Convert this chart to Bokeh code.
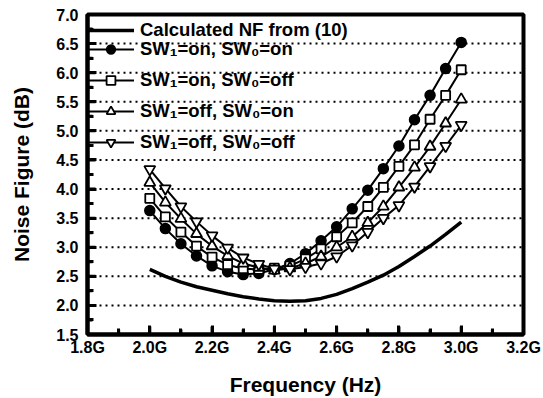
from bokeh.plotting import figure
from bokeh.models import Range1d, FixedTicker, PrintfTickFormatter, Legend, LegendItem
from bokeh.embed import file_html
from bokeh.resources import INLINE

# ---- data (frequency in GHz, noise figure in dB) ----
freq = [2.00, 2.05, 2.10, 2.15, 2.20, 2.25, 2.30, 2.35, 2.40, 2.45, 2.50,
        2.55, 2.60, 2.65, 2.70, 2.75, 2.80, 2.85, 2.90, 2.95, 3.00]

nf_calc = [2.62, 2.50, 2.40, 2.32, 2.26, 2.20, 2.15, 2.11, 2.08, 2.07, 2.08,
           2.12, 2.19, 2.29, 2.40, 2.52, 2.67, 2.84, 3.02, 3.22, 3.43]

nf_on_on = [3.63, 3.32, 3.06, 2.85, 2.68, 2.58, 2.53, 2.55, 2.62, 2.72, 2.89,
            3.11, 3.35, 3.66, 3.98, 4.35, 4.74, 5.19, 5.61, 6.07, 6.52]

nf_on_off = [3.84, 3.52, 3.26, 3.02, 2.83, 2.70, 2.63, 2.62, 2.64, 2.68, 2.80,
             2.97, 3.18, 3.42, 3.70, 4.03, 4.39, 4.76, 5.20, 5.61, 6.05]

nf_off_on = [4.11, 3.77, 3.49, 3.23, 3.02, 2.85, 2.72, 2.65, 2.60, 2.64, 2.72,
             2.84, 3.00, 3.18, 3.42, 3.70, 4.03, 4.37, 4.73, 5.13, 5.54]

nf_off_off = [4.34, 4.01, 3.70, 3.44, 3.20, 2.99, 2.82, 2.71, 2.63, 2.62, 2.66,
              2.72, 2.84, 3.03, 3.26, 3.50, 3.72, 4.04, 4.39, 4.74, 5.10]

x_ticks = [1.8, 2.0, 2.2, 2.4, 2.6, 2.8, 3.0, 3.2]
x_minor = [1.9, 2.1, 2.3, 2.5, 2.7, 2.9, 3.1]
y_ticks = [1.5, 2.0, 2.5, 3.0, 3.5, 4.0, 4.5, 5.0, 5.5, 6.0, 6.5, 7.0]
y_minor = [1.75, 2.25, 2.75, 3.25, 3.75, 4.25, 4.75, 5.25, 5.75, 6.25, 6.75]
grid_levels = [2.0, 2.5, 3.0, 3.5, 4.0, 4.5, 5.0, 5.5, 6.0, 6.5]

labels = ["Calculated NF from (10)",
          "SW\u2081=on, SW\u2080=on",
          "SW\u2081=on, SW\u2080=off",
          "SW\u2081=off, SW\u2080=on",
          "SW\u2081=off, SW\u2080=off"]

FONT = "Liberation Sans"
X0, X1, Y0, Y1 = 1.8, 3.2, 1.5, 7.0
FRAME_W, FRAME_H = 436, 323          # frame size in pixels
PX_X = (X1 - X0) / FRAME_W           # data units per pixel
PX_Y = (Y1 - Y0) / FRAME_H

p = figure(width=543, height=398, output_backend="svg", toolbar_location=None,
           x_range=Range1d(X0, X1), y_range=Range1d(Y0, Y1),
           min_border_left=87, min_border_right=20,
           min_border_top=14, min_border_bottom=61)

p.outline_line_color = "black"
p.outline_line_width = 4

# axes
p.xaxis.ticker = FixedTicker(ticks=x_ticks, minor_ticks=x_minor)
p.yaxis.ticker = FixedTicker(ticks=y_ticks, minor_ticks=y_minor)
p.xaxis.formatter = PrintfTickFormatter(format="%.1fG")
p.yaxis.formatter = PrintfTickFormatter(format="%.1f")

for ax in (p.xaxis, p.yaxis):
    ax.axis_line_color = "black"
    ax.axis_line_width = 4
    ax.major_tick_in = 9
    ax.major_tick_out = 0
    ax.minor_tick_in = 6
    ax.minor_tick_out = 0
    ax.major_tick_line_width = 3
    ax.minor_tick_line_width = 3
    ax.major_tick_line_color = "black"
    ax.minor_tick_line_color = "black"
    ax.major_label_text_font = FONT
    ax.major_label_text_font_size = "16px"
    ax.major_label_text_font_style = "bold"
    ax.major_label_text_color = "black"
    ax.axis_label_text_font = FONT
    ax.axis_label_text_font_size = "21px"
    ax.axis_label_text_font_style = "bold"
    ax.axis_label_text_color = "black"

p.xaxis.axis_label = "Frequency (Hz)"
p.yaxis.axis_label = "Noise Figure (dB)"
p.xaxis.major_label_standoff = 4
p.yaxis.major_label_standoff = 9
p.xaxis.axis_label_standoff = 14
p.yaxis.axis_label_standoff = 20

p.xgrid.visible = False
p.ygrid.visible = False

# dotted horizontal grid lines (drawn as glyphs)
p.segment(x0=[X0] * len(grid_levels), y0=grid_levels,
          x1=[X1] * len(grid_levels), y1=grid_levels,
          line_color="black", line_width=2, line_dash="2 4")

# inward tick marks (drawn as glyphs)
p.segment(x0=x_ticks, y0=[Y0] * len(x_ticks),
          x1=x_ticks, y1=[Y0 + 8 * PX_Y] * len(x_ticks),
          line_color="black", line_width=3)
p.segment(x0=x_minor, y0=[Y0] * len(x_minor),
          x1=x_minor, y1=[Y0 + 5 * PX_Y] * len(x_minor),
          line_color="black", line_width=3)
p.segment(x0=[X0] * len(y_ticks), y0=y_ticks,
          x1=[X0 + 8 * PX_X] * len(y_ticks), y1=y_ticks,
          line_color="black", line_width=3)
p.segment(x0=[X0] * len(y_minor), y0=y_minor,
          x1=[X0 + 5 * PX_X] * len(y_minor), y1=y_minor,
          line_color="black", line_width=3)

# series
r_calc = p.line(freq, nf_calc, line_color="black", line_width=3.5)

l1 = p.line(freq, nf_on_on, line_color="black", line_width=2)
m1 = p.scatter(freq, nf_on_on, marker="circle", size=10,
               fill_color="black", line_color="black", line_width=1.5)

l2 = p.line(freq, nf_on_off, line_color="black", line_width=2)
m2 = p.scatter(freq, nf_on_off, marker="square", size=9,
               fill_color="white", line_color="black", line_width=1.8)

l3 = p.line(freq, nf_off_on, line_color="black", line_width=2)
m3 = p.scatter(freq, nf_off_on, marker="triangle", size=11,
               fill_color="white", line_color="black", line_width=1.8)

l4 = p.line(freq, nf_off_off, line_color="black", line_width=2)
m4 = p.scatter(freq, nf_off_off, marker="inverted_triangle", size=11,
               fill_color="white", line_color="black", line_width=1.8)


def style_legend(lg):
    lg.border_line_alpha = 0
    lg.background_fill_alpha = 0
    lg.padding = 0
    lg.margin = 0
    lg.glyph_width = 47
    lg.glyph_height = 22
    lg.label_height = 22
    lg.label_standoff = 6
    lg.label_text_font = FONT
    lg.label_text_font_size = "18.5px"
    lg.label_text_font_style = "bold"
    lg.label_text_color = "black"


leg1 = Legend(items=[LegendItem(label=labels[0], renderers=[r_calc])],
              location=(0, 293))
style_legend(leg1)
leg1.spacing = 0

leg2 = Legend(items=[LegendItem(label=labels[1], renderers=[l1, m1]),
                     LegendItem(label=labels[2], renderers=[l2, m2]),
                     LegendItem(label=labels[3], renderers=[l3, m3]),
                     LegendItem(label=labels[4], renderers=[l4, m4])],
              location=(0, 181))
style_legend(leg2)
leg2.spacing = 9

p.add_layout(leg1)
p.add_layout(leg2)

open("out.html", "w").write(file_html(p, INLINE))
